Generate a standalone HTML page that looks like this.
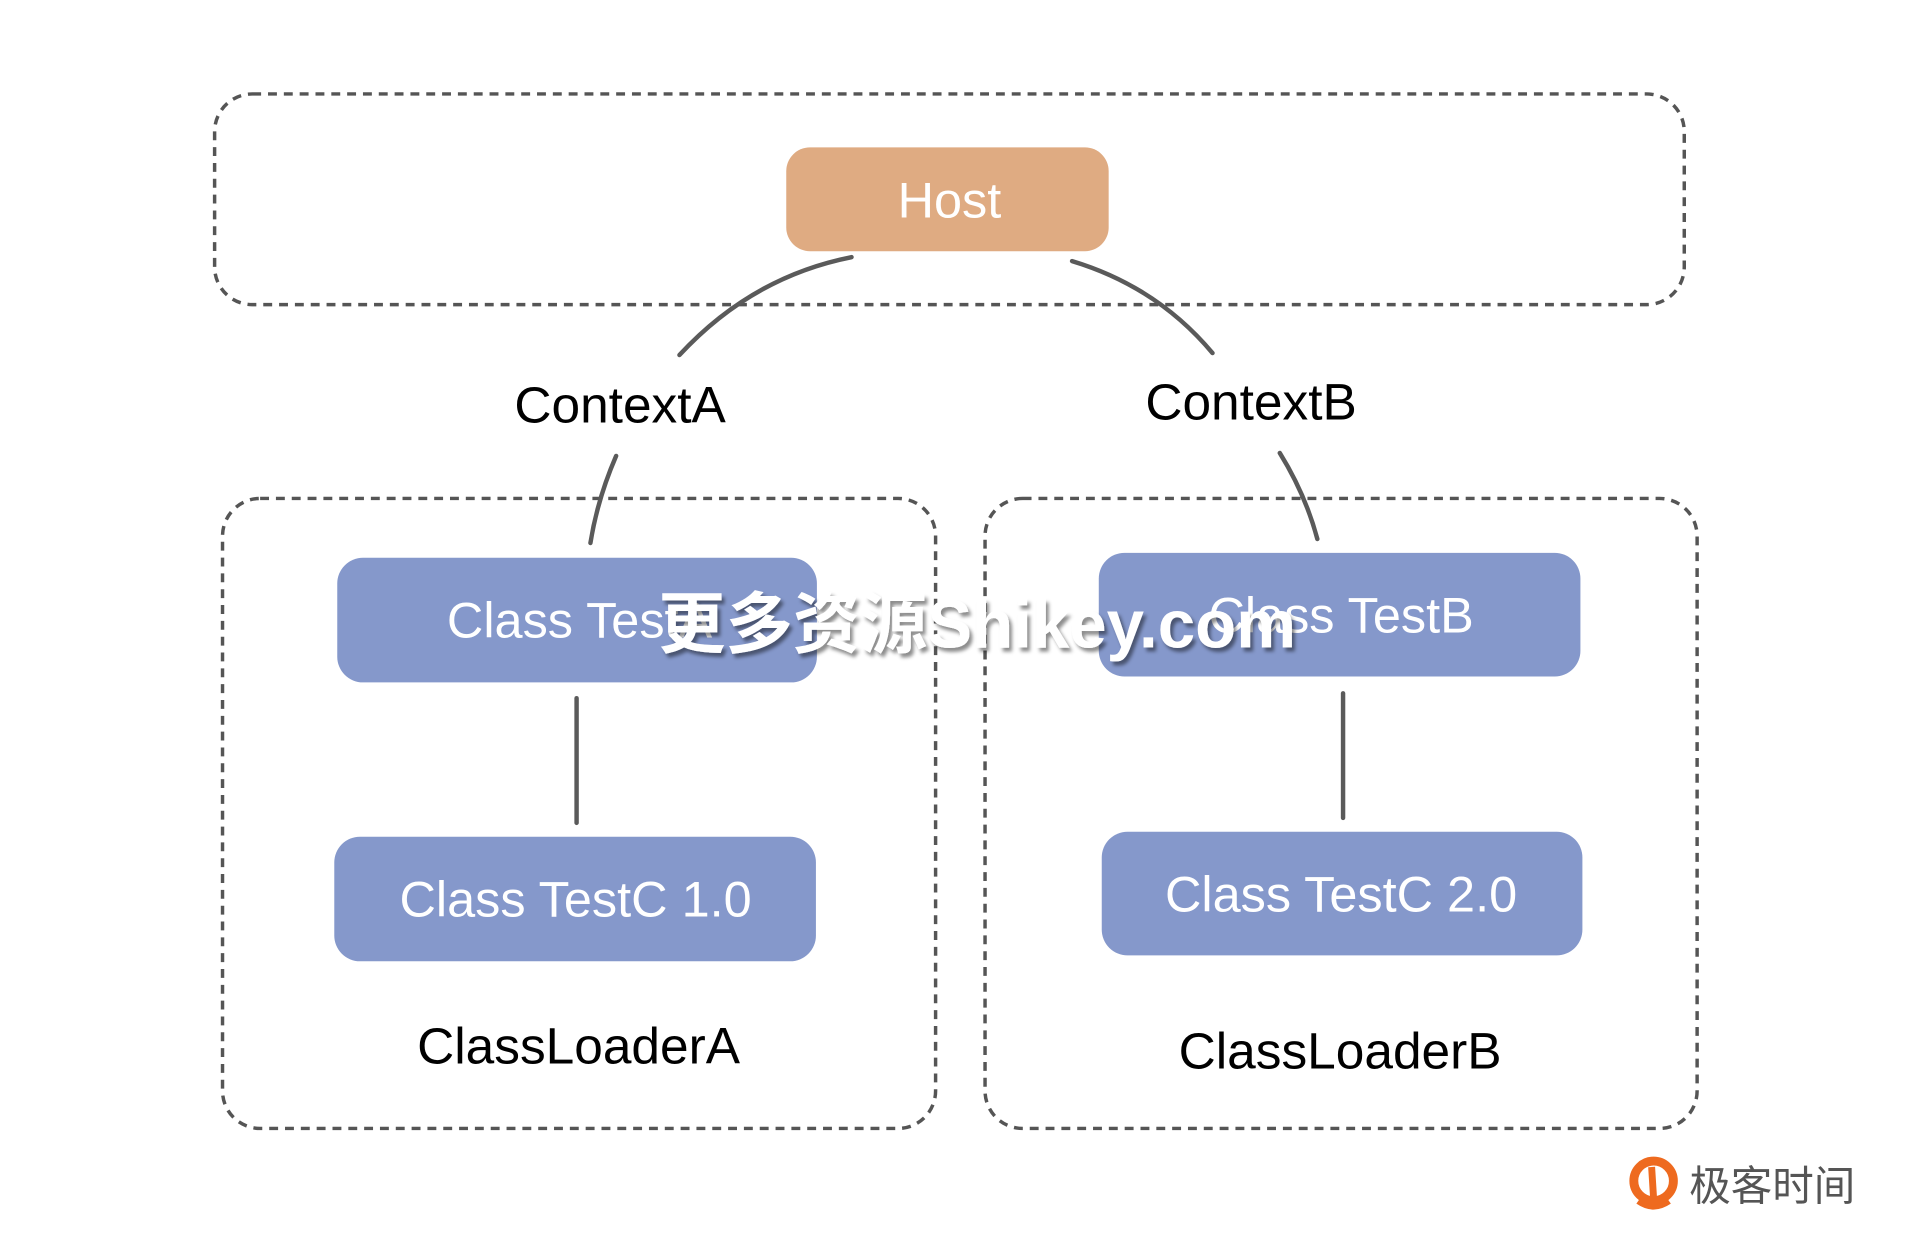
<!DOCTYPE html>
<html><head><meta charset="utf-8"><style>
html,body{margin:0;padding:0;background:#fff;}
svg{display:block}
text{font-family:"Liberation Sans","Noto Sans CJK SC",sans-serif;}
</style></head><body>
<svg width="1920" height="1244" viewBox="0 0 1920 1244" xmlns="http://www.w3.org/2000/svg">
<defs>
<filter id="sh" x="-10%" y="-30%" width="120%" height="160%"><feDropShadow dx="3" dy="4" stdDeviation="2" flood-color="#000" flood-opacity="0.45"/></filter>
</defs>
<g transform="scale(0.989)">
<g fill="none" stroke="#555" stroke-width="3.5" stroke-dasharray="9 7">
<rect x="217" y="95" width="1486" height="213" rx="38"/>
<rect x="225" y="504" width="721" height="637" rx="38"/>
<rect x="996" y="504" width="720" height="637" rx="38"/>
</g>
<g fill="none" stroke="#5a5a5a" stroke-width="4.5" stroke-linecap="round">
<path d="M687 359 Q760 280 861 260"/>
<path d="M1084 264 Q1170 290 1226 357"/>
<path d="M623 461 Q604 505 597 549"/>
<path d="M1294 458 Q1320 500 1332 545"/>
<path d="M583 706 L583 832"/>
<path d="M1358 701 L1358 827"/>
</g>
<rect x="795" y="149" width="326" height="105" rx="24" fill="#dfab82"/>
<rect x="341" y="564" width="485" height="126" rx="26" fill="#8598cb"/>
<rect x="338" y="846" width="487" height="126" rx="26" fill="#8598cb"/>
<rect x="1111" y="559" width="487" height="125" rx="26" fill="#8598cb"/>
<rect x="1114" y="841" width="486" height="125" rx="26" fill="#8598cb"/>
<g font-size="51" fill="#fff" text-anchor="middle" dominant-baseline="central">
<text x="960" y="202">Host</text>
<text x="586" y="627">Class TestA</text>
<text x="582" y="909">Class TestC 1.0</text>
<text x="1356" y="622">Class TestB</text>
<text x="1356" y="904">Class TestC 2.0</text>
</g>
<g font-size="52" fill="#000" text-anchor="middle" dominant-baseline="central">
<text x="627" y="409">ContextA</text>
<text x="1265" y="406">ContextB</text>
<text x="585" y="1057">ClassLoaderA</text>
<text x="1355" y="1062">ClassLoaderB</text>
</g>
<text x="988" y="632" font-size="68" font-weight="bold" fill="#fff" text-anchor="middle" dominant-baseline="central" filter="url(#sh)">更多资源Shikey.com</text>
<g>
<circle cx="1672" cy="1194" r="20" fill="none" stroke="#ee6a1f" stroke-width="9"/>
<path d="M1670 1180 L1672 1212" stroke="#ee6a1f" stroke-width="7"/>
<path d="M1656 1215 Q1672 1226 1688 1215" stroke="#ee6a1f" stroke-width="5" fill="none"/>
<text x="1792" y="1199" font-size="42" fill="#555" text-anchor="middle" dominant-baseline="central">极客时间</text>
</g>
</g>
</svg>
</body></html>
